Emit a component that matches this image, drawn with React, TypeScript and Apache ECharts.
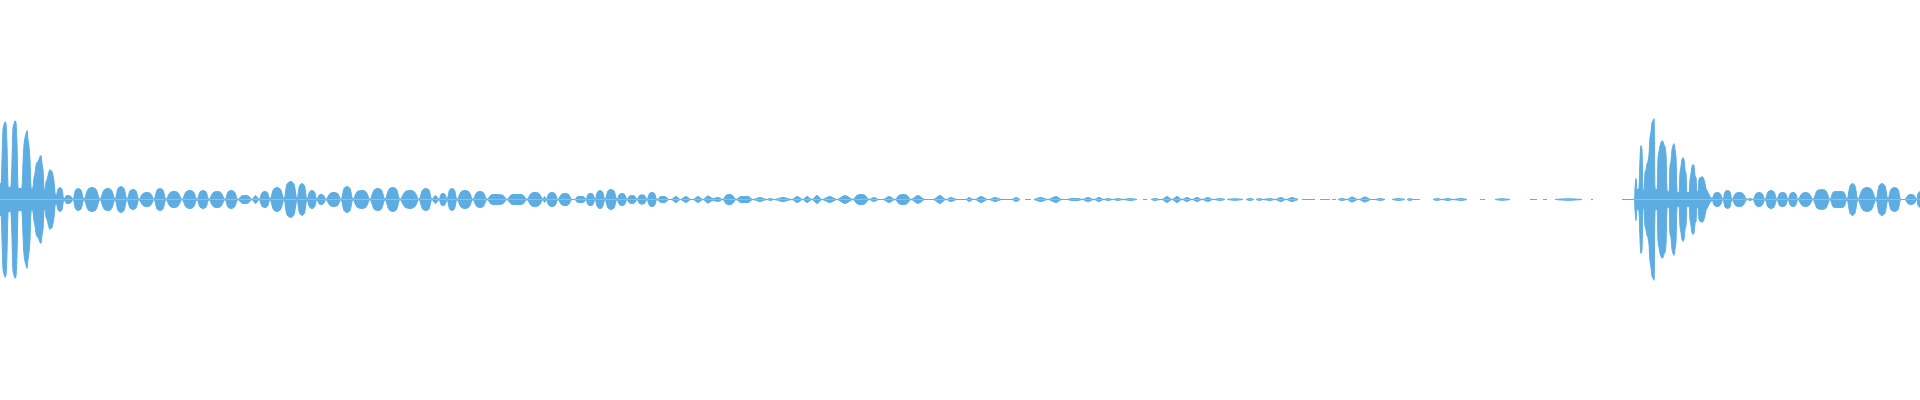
import React, { useEffect, useRef } from "react";
import * as echarts from "echarts";

// Waveform envelope: [time (ms), amplitude (% of full scale)]; null = silence (no trace)
const attackA: [number, number | null][] = [
  [0, 8], [1, 8], [2, 20], [3, 35], [4, 37.5], [5, 39], [6, 38], [7, 27], [8, 7], [9, 6],
  [10, 6], [11, 7], [12, 19], [13, 36], [14, 38], [15, 39.5], [16, 38.5], [17, 28], [18, 6], [19, 5.5],
  [20, 5.5], [21, 5.5], [22, 6], [23, 18], [24, 27.5], [25, 31], [26, 33], [27, 34.5], [28, 30], [29, 26.5],
  [30, 20], [31, 6], [32, 5.5], [33, 6], [34, 11], [35, 13], [36, 17], [37, 18.5], [38, 19], [39, 20],
  [40, 21.5], [41, 22], [42, 18], [43, 15], [44, 5.5], [45, 5], [46, 9], [47, 10], [48, 12], [49, 14],
  [50, 15], [51, 14.5], [52, 14], [53, 12], [54, 9], [55, 3.5],
];

const decayA: [number, number | null][] = [
  [56, 1.5], [58, 5.1], [60, 6], [62, 5.1], [64, 0],
  [66, 1.7], [68, 2], [70.5, 1.7], [73, 0],
  [75.5, 4.7], [78, 5.5], [81, 4.7], [84, 0],
  [88, 5.1], [92, 6], [96, 5.1], [100, 0],
  [104, 4.7], [108, 5.5], [111.5, 4.7], [115, 0],
  [118, 5.5], [121, 6.5], [124, 5.5], [127, 0],
  [130, 4.3], [133, 5], [136, 4.3], [139, 0],
  [143, 3], [147, 3.5], [150.5, 3], [154, 0],
  [157, 4.7], [160, 5.5], [163, 4.7], [166, 0],
  [170, 3.4], [174, 4], [178, 3.4], [182, 0],
  [186, 3.8], [190, 4.5], [193.5, 3.8], [197, 0],
  [200, 3.8], [203, 4.5], [206, 3.8], [209, 0],
  [213, 3.4], [217, 4], [221, 3.4], [225, 0],
  [228, 3.8], [231, 4.5], [234.5, 3.8], [238, 0],
  [241.5, 1.7], [245, 2], [248.5, 1.7], [252, 0],
  [255.5, 2], [259, 0],
  [262, 3.4], [265, 4], [267.5, 3.4], [270, 0],
  [273.5, 5.1], [277, 6], [280.5, 5.1], [284, 0],
  [287, 7.7], [291, 9], [294, 7.7], [297, 0],
  [299.5, 6.8], [302, 8], [304.5, 6.8], [307, 0],
  [309.5, 3.8], [312, 4.5], [314.5, 3.8], [317, 0],
  [319, 2.1], [321, 2.5], [323.5, 2.1], [326, 0],
  [330, 3], [334, 3.5], [337.5, 3], [341, 0],
  [344, 5.5], [347, 6.5], [350, 5.5], [353, 0],
  [357, 3.8], [362, 4.5], [366, 3.8], [370, 0],
  [374, 4.7], [378, 5.5], [381.5, 4.7], [385, 0],
  [389, 5.1], [393, 6], [396.5, 5.1], [400, 0],
  [405, 3.8], [410, 4.5], [414.5, 3.8], [419, 0],
  [422.5, 4.7], [426, 5.5], [429, 4.7], [432, 0],
  [435.5, 2], [439, 0],
  [441, 2.6], [443, 3], [445, 2.6], [447, 0],
  [449.5, 4.7], [452, 5.5], [454.5, 4.7], [457, 0],
  [461, 3.8], [465, 4.5], [469, 3.8], [473, 0],
  [476.5, 3.4], [480, 4], [483.5, 3.4], [487, 0],
  [491, 2.2], [494, 2.5], [500, 2.4], [503, 2.1], [507, 0],
  [511, 2.2], [514, 2.5], [520, 2.5], [523, 2.2], [527, 0],
  [531, 3], [535, 3.5], [539, 3], [543, 0],
  [544.5, 1.5], [546, 0],
  [549, 3], [552, 3.5], [555, 3], [558, 0],
  [561.5, 2.6], [565, 3], [568.5, 2.6], [572, 0],
  [575, 0],
  [577, 1.3], [580, 1.5], [584, 1.3], [586, 0],
  [588, 2.6], [591, 3], [593, 2.6], [595, 0],
  [597.5, 3.8], [600, 4.5], [602.5, 3.8], [605, 0],
  [608, 4.3], [611, 5], [614, 4.3], [617, 0],
  [619.5, 2.6], [622, 3], [624.5, 2.6], [627, 0],
  [629.5, 1.7], [632, 2], [634.5, 1.7], [637, 0],
  [639.5, 2], [642, 2.3], [644.5, 2], [647, 0],
  [649.5, 3], [652, 3.5], [654.5, 3], [657, 0],
  [660, 1.3], [663, 1.5], [666, 1.3], [669, 0],
  [671, 0], [676, 1.5], [680.5, 0],
  [686, 1.5], [691, 0],
  [693, 0], [698, 1.5], [703, 0],
  [708, 1.8], [713, 0.5], [718, 1], [723, 0],
  [726, 2.1], [729, 2.5], [732.5, 2.1], [736, 0],
  [741, 1.5], [748, 1.5], [753, 0],
  [760, 1], [767, 0],
  [770, 0.5], [774, 0],
  [783, 1], [792, 0],
  [797, 1.5], [803, 0],
  [807, 1.5], [812, 0],
  [817, 2], [822, 0],
  [830, 1.5], [837, 0],
  [845, 2], [853, 0],
  [857, 2.1], [861, 2.5], [865, 2.1], [869, 0],
  [874, 1], [879, 0],
  [883, 0], [889, 1.5], [895, 0],
  [899, 2.1], [903, 2.5], [907, 2.1], [911, 0],
  [918, 2], [925, 0],
];

const tailA: [number, number | null][] = [
  [933, 0], [940, 2], [946, 0],
  [951, 1], [957, 0],
  [966, 0], [969, 1], [973, 0],
  [975, 0], [981, 1.5], [988, 0],
  [989, 0], [995, 1], [1002, 0],
  [1012, 0], [1016, 1], [1020, 0],
  [1022, null],
  [1025, 0], [1031, 0],
  [1032.5, null],
  [1034, 0], [1041, 1], [1048, 0],
  [1056, 1.5], [1062, 0],
  [1067, 0], [1072, 0.5], [1078, 0.5], [1082, 0],
  [1088, 1], [1094, 0],
  [1099, 1], [1104, 0],
  [1108, 0.5], [1113, 0],
  [1118, 0.5], [1123, 0],
  [1130, 0.5], [1137, 0],
  [1140, null],
  [1143, 0], [1147, 0],
  [1149, null],
  [1151, 0], [1155, 0.5], [1160, 0],
  [1162, 0], [1167, 1.5], [1172, 0],
  [1177, 1.5], [1182, 0],
  [1187, 1], [1192, 0],
  [1197, 1], [1202, 0],
  [1208, 1], [1213, 0],
  [1214, 0], [1220, 0.5], [1225, 0],
  [1226, null],
  [1227, 0], [1235, 0.4], [1243, 0],
  [1244.5, null],
  [1246, 0], [1250, 0.5], [1254, 0],
  [1255, null],
  [1256, 0], [1259.5, 0.5], [1263, 0],
  [1270, 0.5], [1275, 0],
  [1281, 1], [1286, 0],
  [1292, 1], [1298, 0],
  [1300, null],
  [1302, 0], [1315, 0],
  [1317, null],
  [1320, 0], [1330, 0],
  [1331, null],
  [1332, 0], [1336, 0],
  [1337, null],
  [1338, 0], [1342, 0.5], [1347, 0],
  [1352, 1.3], [1358, 0],
  [1359, 0], [1365, 1.3], [1371, 0],
  [1375, 0], [1380, 0.5], [1385, 0],
  [1388, null],
  [1392, 0], [1399, 0.5], [1405, 0],
  [1406, null],
  [1407, 0], [1410, 0.5], [1413, 0], [1420, 0],
  [1426, null],
  [1433, 0], [1437.5, 0.5], [1442, 0], [1448, 0.5], [1453, 0], [1461, 0.5], [1467, 0],
  [1473, null],
  [1480, 0], [1485, 0],
  [1490, null],
  [1495, 0], [1502, 0.4], [1510, 0],
  [1520, null],
  [1530, 0], [1537, 0],
  [1540, null],
  [1543, 0], [1547, 0],
  [1551, null],
  [1555, 0], [1568, 0.4], [1582, 0],
  [1586, null],
  [1591, 0], [1593, 0],
  [1607, null],
  [1622, 0], [1634, 0],
];

const attackB: [number, number | null][] = [
  [1635, 5.5], [1636, 10.5], [1637, 5], [1638, 5], [1639, 6], [1640, 20], [1641, 27], [1642, 25], [1643, 5], [1644, 4.5],
  [1645, 13.5], [1646, 15], [1647, 18], [1648, 19], [1649, 22.5], [1650, 31], [1651, 34], [1652, 38.5], [1653, 39.5], [1654, 40.5],
  [1655, 6], [1656, 5], [1657, 5], [1658, 20.5], [1659, 24], [1660, 27], [1661, 28.5], [1662, 29.5], [1663, 29], [1664, 27.5],
  [1665, 26.5], [1666, 22.5], [1667, 4.5], [1668, 4], [1669, 4], [1670, 17], [1671, 19], [1672, 25], [1673, 27], [1674, 28],
  [1675, 25], [1676, 21], [1677, 4], [1678, 3.5], [1679, 3.5], [1680, 13.5], [1681, 16.5], [1682, 20], [1683, 21], [1684, 20],
  [1685, 15], [1686, 13], [1687, 3.5], [1688, 3.5], [1689, 3.5], [1690, 10], [1691, 13], [1692, 16.5], [1693, 17.5], [1694, 17],
  [1695, 12], [1696, 11], [1697, 4], [1698, 4], [1699, 10], [1700, 11], [1701, 11], [1702, 11.5], [1703, 11], [1704, 10],
  [1705, 8], [1706, 5.5], [1707, 4.5], [1708, 3.5], [1709, 2.5], [1710, 1.5], [1711, 1], [1712, 0.5],
];

const decayB: [number, number | null][] = [
  [1714.5, 3], [1717, 3.5], [1720, 3], [1723, 0],
  [1725, 3.8], [1727.5, 4.5], [1730, 3.8], [1732, 0],
  [1735.5, 3], [1739, 3.5], [1743, 3], [1747, 0],
  [1750, 0.5], [1753, 0],
  [1756, 3], [1759, 3.5], [1762, 3], [1765, 0],
  [1768, 3.8], [1771, 4.5], [1774, 3.8], [1777, 0],
  [1779.5, 3], [1782.5, 3.5], [1785.5, 3], [1788, 0],
  [1790.5, 3], [1793, 3.5], [1795.5, 3], [1798, 0],
  [1802, 3], [1805.5, 3.5], [1809, 3], [1813, 0],
  [1817, 4.3], [1821.5, 5], [1826, 4.3], [1830, 0],
  [1833, 3.6], [1836, 4], [1841, 4], [1844, 3.6], [1847, 0],
  [1850, 6.8], [1852.5, 8], [1855, 6.8], [1858, 0],
  [1862.5, 5.1], [1867, 6], [1871.5, 5.1], [1876, 0],
  [1879, 6.8], [1882, 8], [1885, 6.8], [1888, 0],
  [1891, 5.1], [1894.5, 6], [1898, 5.1], [1901, 0],
  [1905, 0], [1908, 2.1], [1911, 2.5], [1914, 2.1], [1917, 0],
  [1918, 3], [1920, 4],
];

const DURATION = 1920;
const FULL_SCALE = 100;
const WAVE_COLOR = "#5dade2";

export default function App() {
  const ref = useRef<HTMLDivElement>(null);

  useEffect(() => {
    if (!ref.current) return;
    const chart = echarts.init(ref.current, undefined, { renderer: "svg" });
    const points = [...attackA, ...decayA, ...tailA, ...attackB, ...decayB];
    const upper = points.map(([t, a]) => [t, a == null ? null : a]);
    const lower = points.map(([t, a]) => [t, a == null ? null : -a]);
    const common = {
      type: "line" as const,
      symbol: "none",
      showSymbol: false,
      silent: true,
      connectNulls: false,
      smooth: 0.3,
      lineStyle: { color: WAVE_COLOR, width: 1 },
      itemStyle: { color: WAVE_COLOR },
      areaStyle: { color: WAVE_COLOR, opacity: 1 },
    };
    chart.setOption({
      animation: false,
      grid: { left: 0, right: 0, top: 0, bottom: 1 },
      xAxis: { type: "value", min: 0, max: DURATION, show: false },
      yAxis: { type: "value", min: -FULL_SCALE, max: FULL_SCALE, show: false },
      series: [
        { ...common, name: "upper", data: upper },
        { ...common, name: "lower", data: lower },
      ],
    });
    return () => chart.dispose();
  }, []);

  return (
    <div
      ref={ref}
      style={{ position: "fixed", left: 0, top: 0, width: 1920, height: 400, background: "#fff" }}
    />
  );
}
